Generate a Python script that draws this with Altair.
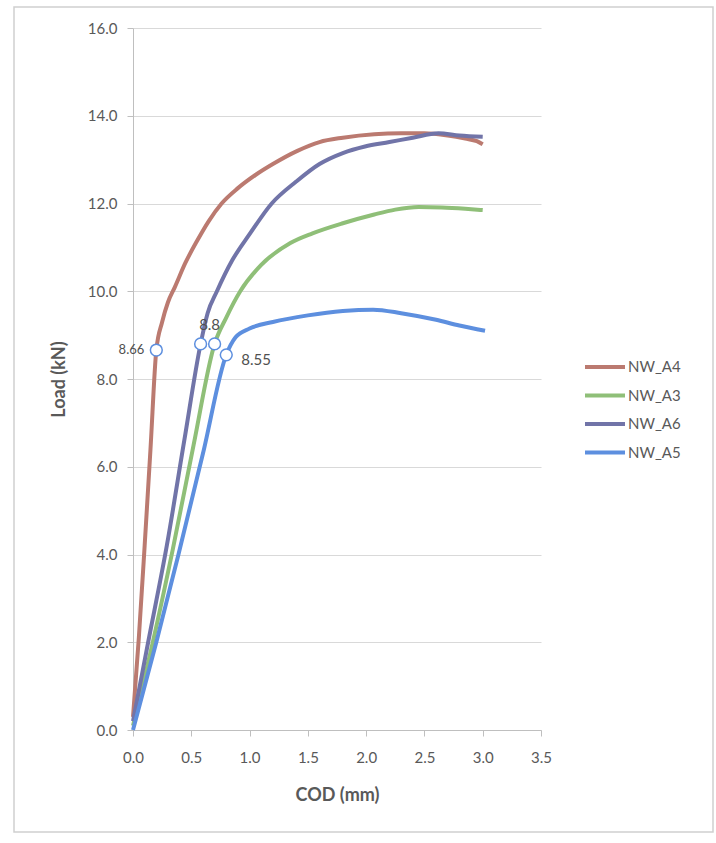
import altair as alt
import pandas as pd

# ---- data ----
a4_x = [0, 0.05, 0.1, 0.15, 0.2, 0.25, 0.3, 0.36, 0.45, 0.55, 0.65, 0.76, 0.9, 1.05, 1.2, 1.41, 1.6, 1.8, 2.07, 2.3, 2.5, 2.7, 2.85, 2.95, 3.0]
a4_y = [0.3, 2.1, 4.2, 6.4, 8.66, 9.3, 9.75, 10.1, 10.65, 11.15, 11.6, 12.0, 12.35, 12.65, 12.9, 13.2, 13.4, 13.5, 13.58, 13.6, 13.6, 13.55, 13.48, 13.42, 13.35]

a3_x = [0, 0.17, 0.34, 0.52, 0.7, 0.8, 0.92, 1.1, 1.35, 1.54, 1.8, 2.07, 2.25, 2.45, 2.65, 2.85, 3.0]
a3_y = [0.1, 2.0, 4.1, 6.5, 8.8, 9.4, 10.0, 10.6, 11.1, 11.32, 11.55, 11.75, 11.86, 11.92, 11.91, 11.88, 11.85]

a6_x = [0, 0.13, 0.29, 0.44, 0.58, 0.64, 0.72, 0.85, 1.0, 1.19, 1.4, 1.6, 1.8, 1.99, 2.2, 2.4, 2.62, 2.8, 3.0]
a6_y = [0.2, 2.0, 4.2, 6.6, 8.8, 9.5, 10.0, 10.7, 11.3, 12.0, 12.5, 12.9, 13.15, 13.3, 13.4, 13.5, 13.6, 13.55, 13.52]

a5_x = [0, 0.2, 0.39, 0.6, 0.8, 0.88, 1.0, 1.2, 1.5, 1.8, 2.06, 2.3, 2.6, 2.8, 3.02]
a5_y = [0.0, 2.0, 4.0, 6.3, 8.55, 8.95, 9.15, 9.3, 9.45, 9.55, 9.58, 9.5, 9.35, 9.22, 9.1]

series_names = ["NW_A4", "NW_A3", "NW_A6", "NW_A5"]
series_colors = ["#bb7a70", "#8fbf78", "#7174a8", "#5d8fdf"]

mark_x = [0.2, 0.58, 0.7, 0.8]
mark_y = [8.66, 8.8, 8.8, 8.55]
mark_lbl = ["8.66", "", "8.8", "8.55"]

x_ticks = [0, 0.5, 1.0, 1.5, 2.0, 2.5, 3.0, 3.5]
y_ticks = [0, 2, 4, 6, 8, 10, 12, 14, 16]

rows = []
for name, xs, ys in zip(series_names, [a4_x, a3_x, a6_x, a5_x], [a4_y, a3_y, a6_y, a5_y]):
    for i, (x, y) in enumerate(zip(xs, ys)):
        rows.append({"series": name, "cod": x, "load": y, "order": i})
df = pd.DataFrame(rows)

mk = pd.DataFrame({"cod": mark_x, "load": mark_y, "lbl": mark_lbl})

FONT = "Lato"
GRAY = "#595959"

xscale = alt.Scale(domain=[0, 3.5], nice=False, zero=True)
yscale = alt.Scale(domain=[0, 16], nice=False)

lines = alt.Chart(df).mark_line(strokeWidth=4, interpolate="monotone").encode(
    x=alt.X("cod:Q", scale=xscale,
            axis=alt.Axis(title="COD (mm)", values=x_ticks, format=".1f", grid=False,
                          tickSize=6, labelPadding=14, titlePadding=21, labelFlush=False)),
    y=alt.Y("load:Q", scale=yscale,
            axis=alt.Axis(title="Load (kN)", values=y_ticks, format=".1f", grid=True,
                          tickSize=6, labelPadding=10, titlePadding=19, labelFlush=False)),
    color=alt.Color("series:N", scale=alt.Scale(domain=series_names, range=series_colors),
                    sort=series_names,
                    legend=alt.Legend(title=None, orient="none", legendX=450, legendY=330,
                                      symbolType="stroke", symbolSize=1600, symbolStrokeWidth=4,
                                      labelFontSize=15, labelColor=GRAY, labelFont=FONT,
                                      clipHeight=18, rowPadding=10.5, labelOffset=1)),
    order="order:Q",
)

pts = alt.Chart(mk).mark_point(shape="circle", filled=True, fill="white", stroke="#5d8fdf",
                               strokeWidth=1.5, size=140, opacity=1).encode(
    x=alt.X("cod:Q", scale=xscale), y=alt.Y("load:Q", scale=yscale))

lbl_a = alt.Chart(mk.iloc[[0]]).mark_text(align="right", dx=-12, dy=0, fontSize=13,
                                          font=FONT, color="#505050").encode(
    x=alt.X("cod:Q", scale=xscale), y=alt.Y("load:Q", scale=yscale), text="lbl:N")
lbl_b = alt.Chart(mk.iloc[[2]]).mark_text(align="center", dx=-5, dy=-19, fontSize=15,
                                          font=FONT, color="#505050").encode(
    x=alt.X("cod:Q", scale=xscale), y=alt.Y("load:Q", scale=yscale), text="lbl:N")
lbl_c = alt.Chart(mk.iloc[[3]]).mark_text(align="left", dx=15, dy=5, fontSize=15,
                                          font=FONT, color="#505050").encode(
    x=alt.X("cod:Q", scale=xscale), y=alt.Y("load:Q", scale=yscale), text="lbl:N")

frame = alt.Chart(pd.DataFrame({"a": [0]})).mark_rect(fill=None, stroke="#d0d0d0",
                                                        strokeWidth=1.5).encode(
    x=alt.value(-119), x2=alt.value(580), y=alt.value(-21), y2=alt.value(804))

chart = alt.layer(frame, lines, pts, lbl_a, lbl_b, lbl_c).properties(
    width=408, height=702,
    padding={"left": 133, "top": 28, "right": 175, "bottom": 113},
    autosize=alt.AutoSizeParams(type="none"),
    background="white",
).configure_view(stroke=None).configure_axis(
    labelFont=FONT, titleFont=FONT, labelColor=GRAY, titleColor=GRAY,
    labelFontSize=15, titleFontSize=18, titleFontWeight="bold",
    domainColor="#bfbfbf", tickColor="#bfbfbf", gridColor="#d9d9d9", gridWidth=1.2,
)

chart.save("out.html", embed_options={"renderer": "svg", "actions": False})
